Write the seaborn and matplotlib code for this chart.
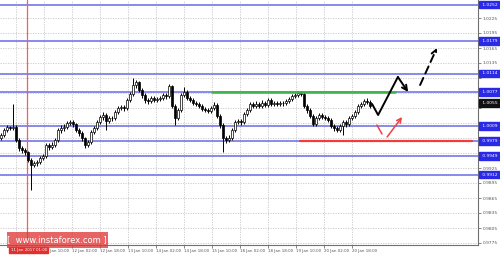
import matplotlib
matplotlib.use("Agg")
import matplotlib.pyplot as plt
import matplotlib.transforms as mtransforms
from matplotlib.patches import Rectangle
import numpy as np
import seaborn as sns

# ---------------- data (USD/CHF H1) ----------------
closes = [0.9991, 1.0001, 1.0007, 1.0005, 1.0007, 0.9981, 0.9965, 0.9961, 0.9957, 0.9941,
          0.9931, 0.9935, 0.9937, 0.9945, 0.9949, 0.9971, 0.9967, 0.9971, 0.9981, 1.0001,
          1.0005, 1.0007, 1.0015, 1.0017, 1.0013, 1.0001, 0.9995, 0.9985, 0.9971, 0.9977,
          0.9997, 1.0005, 1.0017, 1.0027, 1.0031, 1.0019, 1.0025, 1.0025, 1.0037, 1.0045,
          1.0047, 1.0045, 1.0061, 1.0073, 1.0091, 1.0097, 1.0081, 1.0071, 1.0061, 1.0059,
          1.0065, 1.0061, 1.0063, 1.0065, 1.0071, 1.0069, 1.0089, 1.0049, 1.0025, 1.0041,
          1.0071, 1.0077, 1.0065, 1.0061, 1.0055, 1.0053, 1.0049, 1.0043, 1.0041, 1.0039,
          1.0045, 1.0051, 1.0029, 1.0011, 0.9985, 0.9981, 0.9985, 1.0001, 1.0017, 1.0019,
          1.0017, 1.0033, 1.0041, 1.0053, 1.0049, 1.0053, 1.0049, 1.0055, 1.0051, 1.0061,
          1.0053, 1.0055, 1.0053, 1.0055, 1.0055, 1.0059, 1.0063, 1.0069, 1.0071, 1.0075,
          1.0073, 1.0049, 1.0041, 1.0029, 1.0013, 1.0025, 1.0031, 1.0027, 1.0025, 1.0021,
          1.0009, 1.0005, 1.0001, 1.0009, 1.0017, 1.0013, 1.0025, 1.0029, 1.0037, 1.0049,
          1.0053, 1.0059, 1.0057, 1.0049]
opens = [0.9985] + closes[:-1]
highs = [0.9996, 1.0005, 1.0012, 1.0010, 1.0053, 1.0011, 0.9985, 0.9970, 0.9965, 0.9960,
         0.9945, 0.9940, 0.9942, 0.9949, 0.9954, 0.9976, 0.9975, 0.9977, 0.9986, 1.0006,
         1.0011, 1.0013, 1.0020, 1.0022, 1.0021, 1.0016, 1.0005, 0.9999, 0.9988, 0.9982,
         1.0001, 1.0010, 1.0022, 1.0032, 1.0037, 1.0035, 1.0030, 1.0030, 1.0041, 1.0050,
         1.0052, 1.0051, 1.0066, 1.0078, 1.0105, 1.0102, 1.0100, 1.0085, 1.0075, 1.0066,
         1.0070, 1.0069, 1.0068, 1.0070, 1.0076, 1.0075, 1.0093, 1.0091, 1.0053, 1.0046,
         1.0075, 1.0087, 1.0081, 1.0069, 1.0065, 1.0059, 1.0057, 1.0053, 1.0047, 1.0045,
         1.0049, 1.0057, 1.0055, 1.0033, 1.0015, 0.9990, 0.9991, 1.0005, 1.0022, 1.0024,
         1.0023, 1.0038, 1.0046, 1.0058, 1.0058, 1.0059, 1.0057, 1.0061, 1.0059, 1.0066,
         1.0065, 1.0060, 1.0059, 1.0060, 1.0060, 1.0064, 1.0068, 1.0074, 1.0076, 1.0080,
         1.0079, 1.0077, 1.0053, 1.0045, 1.0033, 1.0030, 1.0036, 1.0035, 1.0031, 1.0029,
         1.0025, 1.0013, 1.0009, 1.0014, 1.0022, 1.0021, 1.0030, 1.0034, 1.0042, 1.0054,
         1.0058, 1.0064, 1.0066, 1.0061]
lows = [0.9981, 0.9987, 0.9998, 1.0001, 1.0001, 0.9977, 0.9959, 0.9955, 0.9951, 0.9937,
        0.9881, 0.9927, 0.9930, 0.9933, 0.9941, 0.9945, 0.9961, 0.9963, 0.9967, 0.9977,
        0.9996, 1.0000, 1.0003, 1.0011, 1.0008, 0.9997, 0.9990, 0.9980, 0.9965, 0.9967,
        0.9973, 0.9993, 1.0001, 1.0013, 1.0022, 1.0001, 1.0015, 1.0020, 1.0021, 1.0033,
        1.0041, 1.0040, 1.0041, 1.0057, 1.0069, 1.0086, 1.0077, 1.0066, 1.0056, 1.0054,
        1.0055, 1.0057, 1.0057, 1.0059, 1.0061, 1.0064, 1.0065, 1.0045, 1.0011, 1.0021,
        1.0037, 1.0067, 1.0061, 1.0057, 1.0051, 1.0049, 1.0045, 1.0039, 1.0037, 1.0035,
        1.0035, 1.0041, 1.0025, 1.0005, 0.9957, 0.9975, 0.9977, 0.9981, 0.9997, 1.0013,
        1.0012, 1.0013, 1.0029, 1.0037, 1.0045, 1.0045, 1.0045, 1.0045, 1.0047, 1.0047,
        1.0049, 1.0049, 1.0049, 1.0049, 1.0050, 1.0051, 1.0055, 1.0059, 1.0065, 1.0067,
        1.0069, 1.0045, 1.0035, 1.0025, 1.0009, 1.0009, 1.0021, 1.0023, 1.0021, 1.0017,
        1.0005, 1.0000, 0.9997, 0.9997, 0.9991, 1.0008, 1.0009, 1.0021, 1.0025, 1.0033,
        1.0045, 1.0049, 1.0053, 1.0045]

level_prices = [1.0252, 1.0179, 1.0114, 1.0077, 1.0009, 0.9979, 0.9949, 0.9912]
level_labels = ["1.0252", "1.0179", "1.0114", "1.0077", "1.0009", "0.9979", "0.9949", "0.9912"]
resistance = 1.0077
support = 0.9979
current_price = 1.0055
current_label = "1.0055"

y_ticks = [0.9775, 0.9805, 0.9835, 0.9865, 0.9895, 0.9925, 0.9955, 0.9985, 1.0015,
           1.0045, 1.0075, 1.0105, 1.0135, 1.0165, 1.0195, 1.0225]
x_tick_labels = ["10 Jan 18:00", "11 Jan 10:00", "12 Jan 02:00", "12 Jan 18:00",
                 "13 Jan 10:00", "14 Jan 02:00", "14 Jan 18:00", "15 Jan 10:00",
                 "18 Jan 02:00", "18 Jan 18:00", "19 Jan 10:00", "20 Jan 02:00",
                 "20 Jan 18:00"]
x_tick_pos = [5, 14.33, 23.67, 33, 42.33, 51.67, 61, 70.33, 79.67, 89, 98.33, 107.67, 117]
separator_bar = 8.67
separator_label = "11 Jan 2017 01:00"

# forecast path (bar index, price)
main_path_x = [123.7, 125.7, 132.3, 135.7]
main_path_y = [1.0053, 1.0031, 1.0107, 1.0077]
dash_path_x = [139.7, 145.3]
dash_path_y = [1.0091, 1.0165]
alt_path_x = [125.3, 127.0, 128.7, 133.7]
alt_path_y = [1.0011, 0.9993, 0.9987, 1.0027]

# ---------------- drawing ----------------
sns.set_theme(style="white")
plt.rcParams['font.family'] = ['DejaVu Sans']

fig = plt.figure(figsize=(5.0, 2.56), dpi=100)
ax = fig.add_axes([0.0, 11 / 256, 478 / 500, 245 / 256])
ax.set_facecolor("white")

ax.set_xlim(-0.333, 159)
ax.set_ylim(0.9771, 1.0261)

# grid
for yt in y_ticks:
    ax.axhline(yt, color="#c8c8c8", lw=0.6, ls=(0, (1.5, 1.5)), zorder=0)
for xt in x_tick_pos:
    ax.axvline(xt, color="#c8c8c8", lw=0.6, ls=(0, (1.5, 1.5)), zorder=0)

# levels
for lp in level_prices:
    ax.axhline(lp, color="#8080ea", lw=1.3, zorder=1)
ax.axvline(separator_bar, color="#ff5a5a", lw=0.9, zorder=1)

idx = np.arange(len(closes))
o = np.array(opens); c = np.array(closes)
h = np.array(highs); l = np.array(lows)
ax.vlines(idx, l, h, color="black", lw=0.7, zorder=3)
bull = c >= o
bot = np.minimum(o, c)
hgt = np.maximum(np.abs(c - o), 0.00008)
ax.bar(idx[bull], hgt[bull], bottom=bot[bull], width=0.62, color="white",
       edgecolor="black", linewidth=0.5, zorder=4)
ax.bar(idx[~bull], hgt[~bull], bottom=bot[~bull], width=0.62, color="black",
       edgecolor="black", linewidth=0.5, zorder=4)

# support / resistance segments
sns.lineplot(x=[70.3, 131.3], y=[resistance, resistance], ax=ax, color="#3cb44b", lw=1.8, zorder=5)
sns.lineplot(x=[99.7, 157.0], y=[support, support], ax=ax, color="#f03c3c", lw=1.6, zorder=5)

# forecast arrows
ax.plot(main_path_x[:-1], main_path_y[:-1], color="black", lw=1.4, zorder=6, solid_capstyle="round")
ax.annotate("", xy=(main_path_x[-1], main_path_y[-1]), xytext=(main_path_x[-2], main_path_y[-2]),
            arrowprops=dict(arrowstyle="->", color="black", lw=1.4, mutation_scale=9,
                            shrinkA=0, shrinkB=0), zorder=6)
ax.annotate("", xy=(dash_path_x[-1], dash_path_y[-1]), xytext=(dash_path_x[0], dash_path_y[0]),
            arrowprops=dict(arrowstyle="->", color="black", lw=1.4, ls=(0, (4, 2.5)),
                            mutation_scale=9, shrinkA=0, shrinkB=0), zorder=6)
ax.plot(alt_path_x[:2], alt_path_y[:2], color="#f04040", lw=1.1, zorder=6)
ax.annotate("", xy=(alt_path_x[3], alt_path_y[3]), xytext=(alt_path_x[2], alt_path_y[2]),
            arrowprops=dict(arrowstyle="->", color="#f04040", lw=1.1, mutation_scale=8,
                            shrinkA=0, shrinkB=0), zorder=6)

# axes styling
sns.despine(ax=ax, left=True, top=True, right=False, bottom=False)
for s in ("right", "bottom"):
    ax.spines[s].set_color("#707070")
    ax.spines[s].set_linewidth(0.8)
ax.yaxis.tick_right()
ax.set_yticks(y_ticks)
tag_prices = level_prices + [current_price]
ylabels = []
for v in y_ticks:
    covered = min(abs(v - t) for t in tag_prices) < 0.0012
    ylabels.append("" if covered else f"{v:.4f}")
ax.set_yticklabels(ylabels, fontsize=3.2, color="#555555")
ax.tick_params(axis="y", length=2, width=0.5, pad=1.5, colors="#555555", right=True)
ax.set_xticks(x_tick_pos)
# the first time label is hidden under the red separator tag, as in the screenshot
ax.set_xticklabels([""] + x_tick_labels[1:], fontsize=2.9, color="#555555", ha="left")
ax.tick_params(axis="x", length=2, width=0.5, pad=1.2, colors="#555555", bottom=True)
ax.set_xlabel(""); ax.set_ylabel("")
if ax.get_legend():
    ax.get_legend().remove()

# right-side price tags
trans = mtransforms.blended_transform_factory(ax.transAxes, ax.transData)
for lp, lab in zip(level_prices, level_labels):
    ax.text(1.006, lp, " " + lab + " ", transform=trans, fontsize=3.2, color="white",
            va="center", ha="left", clip_on=False, zorder=10,
            bbox=dict(boxstyle="square,pad=0.35", fc="#2a2ae6", ec="#2a2ae6"))
ax.text(1.006, current_price, " " + current_label + " ", transform=trans, fontsize=3.2,
        color="white", va="center", ha="left", clip_on=False, zorder=10,
        bbox=dict(boxstyle="square,pad=0.35", fc="#101010", ec="#101010"))

# separator date tag
sep_trans = mtransforms.blended_transform_factory(ax.transData, fig.transFigure)
ax.text(separator_bar - 5.5, 6.0 / 256, separator_label, transform=sep_trans, fontsize=2.9,
        color="white", va="center", ha="left", clip_on=False, zorder=10,
        bbox=dict(boxstyle="square,pad=0.3", fc="#e03030", ec="#e03030"))

# watermark
fig.patches.append(Rectangle((7 / 500, 8 / 256), 101 / 500, 16 / 256, transform=fig.transFigure,
                             fc="#e03838", ec="none", alpha=0.78, zorder=20))
fig.text(57 / 500, 16.5 / 256, "[  www.instaforex.com ]", fontsize=6.0, color="white",
         ha="center", va="center", zorder=21)

fig.savefig("out.png", dpi=100)
